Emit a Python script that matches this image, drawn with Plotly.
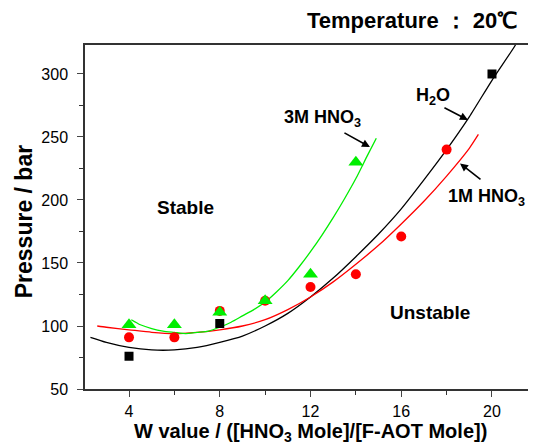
import plotly.graph_objects as go

# Measured points
h2o_x = [4, 8, 20]
h2o_y = [76, 102, 300]
m1_x = [4, 6, 8, 10, 12, 14, 16, 18]
m1_y = [91, 91, 112, 120, 131, 141, 171, 240]
m3_x = [4, 6, 8, 10, 12, 14]
m3_y = [101, 101, 111, 120, 141, 230]

# Fitted curves
h2o_fit_x = [2.3, 3, 4, 5, 6, 7, 8, 9, 10, 11, 12, 13, 14, 15, 16, 17, 18, 19, 20, 21, 21.3]
h2o_fit_y = [91, 87, 83, 81, 81, 83, 87, 92, 100, 110, 123, 138, 155, 173, 193, 216, 240, 266, 295, 322, 332]
m1_fit_x = [2.6, 3, 4, 5, 6, 7, 8, 9, 10, 11, 12, 13, 14, 15, 16, 17, 18, 19, 19.4]
m1_fit_y = [100, 99, 97, 95, 94, 95, 97, 100, 105, 113, 123, 135, 149, 164, 181, 199, 219, 241, 252]
m3_fit_x = [4.1, 4.5, 5, 5.5, 6, 6.5, 7, 7.5, 8, 8.5, 9, 9.5, 10, 10.5, 11, 11.5, 12, 12.5, 13, 13.5, 14, 14.5, 14.9]
m3_fit_y = [105, 101, 98, 96, 95, 94, 95, 96, 99, 103, 108, 113, 119, 127, 136, 147, 159, 172, 186, 201, 217, 235, 249]

x_ticks = [4, 8, 12, 16, 20]
y_ticks = [50, 100, 150, 200, 250, 300]

FONT = "Liberation Sans, Arial, sans-serif"

fig = go.Figure()
fig.add_trace(go.Scatter(x=h2o_fit_x, y=h2o_fit_y, mode="lines",
                         line=dict(color="black", width=1.3, shape="spline", smoothing=0.6), showlegend=False))
fig.add_trace(go.Scatter(x=m1_fit_x, y=m1_fit_y, mode="lines",
                         line=dict(color="#ff0000", width=1.3, shape="spline", smoothing=0.6), showlegend=False))
fig.add_trace(go.Scatter(x=m3_fit_x, y=m3_fit_y, mode="lines",
                         line=dict(color="#00ee00", width=1.3, shape="spline", smoothing=0.6), showlegend=False))
fig.add_trace(go.Scatter(x=h2o_x, y=h2o_y, mode="markers",
                         marker=dict(symbol="square", size=9, color="black"), showlegend=False))
fig.add_trace(go.Scatter(x=m1_x, y=m1_y, mode="markers",
                         marker=dict(symbol="circle", size=10, color="#ff0000"), showlegend=False))
fig.add_trace(go.Scatter(x=m3_x, y=m3_y, mode="markers",
                         marker=dict(symbol="triangle-up", size=13, color="#00ee00"), showlegend=False))

lab = dict(family=FONT, size=18, color="black", weight="bold")
big = dict(family=FONT, size=19, color="black", weight="bold")
ann = []
ann.append(dict(x=12.55, y=265, xref="x", yref="y", text="3M HNO<sub>3</sub>", showarrow=False, font=lab))
ann.append(dict(x=17.4, y=282, xref="x", yref="y", text="H<sub>2</sub>O", showarrow=False, font=lab))
ann.append(dict(x=19.75, y=202, xref="x", yref="y", text="1M HNO<sub>3</sub>", showarrow=False, font=lab))
ann.append(dict(x=6.47, y=194, xref="x", yref="y", text="Stable", showarrow=False, font=big))
ann.append(dict(x=17.27, y=111, xref="x", yref="y", text="Unstable", showarrow=False, font=big))
for (hx, hy, axp, ayp) in [(14.62, 242, -27, -15), (18.94, 263.5, -25, -13), (18.59, 229, 22, 17)]:
    ann.append(dict(x=hx, y=hy, xref="x", yref="y", text="", showarrow=True,
                    ax=axp, ay=ayp, arrowhead=2, arrowsize=1, arrowwidth=1.6, arrowcolor="black"))
ann.append(dict(x=0.725, y=1.072, xref="paper", yref="paper", xanchor="center", yanchor="middle",
                text="Temperature ： 20℃", showarrow=False,
                font=dict(family=FONT, size=22, color="black", weight="bold")))
# axis titles
ann.append(dict(x=0.5, y=-0.126, xref="paper", yref="paper", xanchor="center", yanchor="middle",
                text="W value / ([HNO<sub>3</sub> Mole]/[F-AOT Mole])", showarrow=False,
                font=dict(family=FONT, size=20, color="black", weight="bold")))
ann.append(dict(x=-0.135, y=0.485, xref="paper", yref="paper", xanchor="center", yanchor="middle",
                textangle=-90, text="Pressure / bar", showarrow=False,
                font=dict(family=FONT, size=23, color="black", weight="bold")))
fig.update_layout(annotations=ann)

fig.update_layout(
    width=528, height=440,
    margin=dict(l=77, r=0, t=37, b=59, pad=0),
    paper_bgcolor="white", plot_bgcolor="white",
    font=dict(family=FONT, size=16, color="black"),
    xaxis=dict(range=[2.06, 21.94], tickvals=x_ticks, ticks="outside", ticklen=6, tickwidth=1.2,
               showline=True, linecolor="#333333", linewidth=1.5, mirror=True, showgrid=False,
               zeroline=False, tickfont=dict(size=16), automargin=False, ticklabelstandoff=1,
               minor=dict(dtick=2, tick0=0, ticks="outside", ticklen=4, tickwidth=1.2, tickcolor="#333333")),
    yaxis=dict(range=[50, 323], tickvals=y_ticks, ticks="outside", ticklen=6, tickwidth=1.2,
               showline=True, linecolor="#333333", linewidth=1.5, mirror=False, showgrid=False,
               zeroline=False, tickfont=dict(size=16), automargin=False, ticklabelstandoff=6,
               minor=dict(dtick=25, tick0=0, ticks="outside", ticklen=4, tickwidth=1.2, tickcolor="#333333")),
)

fig.write_html("out.html")
